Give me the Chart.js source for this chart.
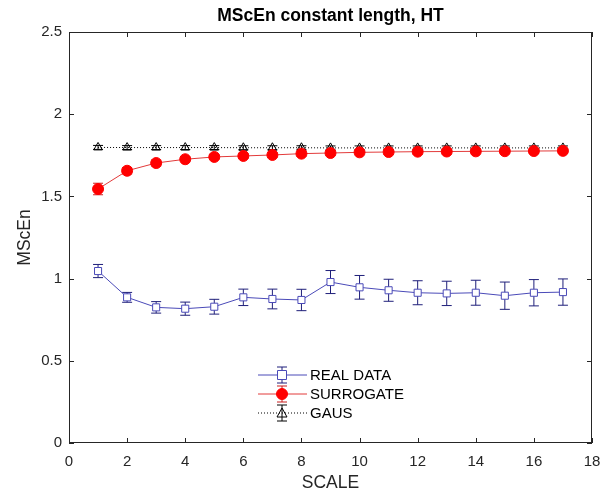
<!DOCTYPE html>
<html>
<head>
<meta charset="utf-8">
<script src="https://cdn.jsdelivr.net/npm/chart.js@4.4.1/dist/chart.umd.min.js"></script>
<style>
  html, body { margin: 0; background: #fff; }
  #wrap { width: 615px; height: 492px; }
</style>
</head>
<body>
<div id="wrap"><canvas id="chart"></canvas></div>
<script>
// valores
const scaleValues = [1, 2, 3, 4, 5, 6, 7, 8, 9, 10, 11, 12, 13, 14, 15, 16, 17];
const realData = [1.046, 0.886, 0.825, 0.817, 0.829, 0.886, 0.876, 0.870, 0.979, 0.947, 0.929, 0.914, 0.910, 0.914, 0.896, 0.914, 0.918];
const realErr  = [0.040, 0.030, 0.035, 0.040, 0.045, 0.050, 0.060, 0.065, 0.070, 0.072, 0.067, 0.073, 0.074, 0.076, 0.083, 0.080, 0.080];
const surrData = [1.545, 1.656, 1.703, 1.726, 1.740, 1.746, 1.752, 1.760, 1.764, 1.768, 1.770, 1.772, 1.773, 1.774, 1.775, 1.776, 1.777];
const surrErr  = [0.035, 0.020, 0.018, 0.015, 0.015, 0.015, 0.015, 0.015, 0.015, 0.015, 0.015, 0.015, 0.015, 0.015, 0.015, 0.015, 0.015];
const gausData = [1.798, 1.797, 1.797, 1.797, 1.797, 1.796, 1.796, 1.796, 1.795, 1.795, 1.795, 1.795, 1.795, 1.795, 1.795, 1.795, 1.795];
const gausErr  = [0.012, 0.012, 0.012, 0.012, 0.012, 0.012, 0.012, 0.012, 0.012, 0.012, 0.012, 0.012, 0.012, 0.012, 0.012, 0.012, 0.012];
const xTicks = [0, 2, 4, 6, 8, 10, 12, 14, 16, 18];
const yTicks = [0, 0.5, 1, 1.5, 2, 2.5];

const toPoints = arr => arr.map((v, i) => ({ x: scaleValues[i], y: v }));
const textColor = '#262626';
const fontFamily = '"Liberation Sans", Arial, sans-serif';

// barras de erro desenhadas pelas escalas do Chart.js
const errorBars = {
  id: 'errorBars',
  beforeDatasetsDraw(chart) {
    const { ctx, scales: { x, y } } = chart;
    chart.data.datasets.forEach(ds => {
      if (!ds.errors) return;
      ctx.save();
      ctx.strokeStyle = ds.errorColor;
      ctx.lineWidth = 1;
      ds.data.forEach((p, i) => {
        const px = x.getPixelForValue(p.x);
        const top = y.getPixelForValue(p.y + ds.errors[i]);
        const bot = y.getPixelForValue(p.y - ds.errors[i]);
        ctx.beginPath();
        ctx.moveTo(px, top); ctx.lineTo(px, bot);
        ctx.moveTo(px - 5, top); ctx.lineTo(px + 5, top);
        ctx.moveTo(px - 5, bot); ctx.lineTo(px + 5, bot);
        ctx.stroke();
      });
      ctx.restore();
    });
  }
};

// caixa, ticks para dentro, título e legenda (estilo MATLAB)
const matlabFrame = {
  id: 'matlabFrame',
  afterDraw(chart) {
    const { ctx, chartArea: a, scales: { x, y } } = chart;
    ctx.save();
    ctx.strokeStyle = '#262626';
    ctx.lineWidth = 1;
    ctx.strokeRect(a.left + 0.5, a.top + 0.5, a.right - a.left - 1, a.bottom - a.top - 1);
    ctx.beginPath();
    xTicks.forEach(t => {
      const px = Math.round(x.getPixelForValue(t)) + 0.5;
      ctx.moveTo(px, a.bottom); ctx.lineTo(px, a.bottom - 5);
      ctx.moveTo(px, a.top); ctx.lineTo(px, a.top + 5);
    });
    yTicks.forEach(t => {
      const py = Math.round(y.getPixelForValue(t)) + 0.5;
      ctx.moveTo(a.left, py); ctx.lineTo(a.left + 5, py);
      ctx.moveTo(a.right, py); ctx.lineTo(a.right - 5, py);
    });
    ctx.stroke();

    ctx.fillStyle = '#000';
    ctx.font = 'bold 17.5px ' + fontFamily;
    ctx.textAlign = 'center';
    ctx.textBaseline = 'middle';
    ctx.fillText('MScEn constant length, HT', (a.left + a.right) / 2, 16);

    // legenda
    const lx0 = 258, lx1 = 307, mx = 282, tx = 310;
    const rows = [375, 394, 413];
    chart.data.datasets.forEach((ds, i) => {
      const ry = rows[i];
      ctx.strokeStyle = ds.borderColor;
      ctx.lineWidth = 1;
      ctx.setLineDash(ds.borderDash || []);
      ctx.beginPath(); ctx.moveTo(lx0, ry); ctx.lineTo(lx1, ry); ctx.stroke();
      ctx.setLineDash([]);
      ctx.strokeStyle = ds.errorColor;
      ctx.beginPath();
      ctx.moveTo(mx, ry - 8); ctx.lineTo(mx, ry + 8);
      ctx.moveTo(mx - 5, ry - 8); ctx.lineTo(mx + 5, ry - 8);
      ctx.moveTo(mx - 5, ry + 8); ctx.lineTo(mx + 5, ry + 8);
      ctx.stroke();
      ctx.fillStyle = ds.pointBackgroundColor;
      ctx.strokeStyle = ds.pointBorderColor;
      ctx.beginPath();
      if (ds.pointStyle === 'rect') {
        ctx.rect(mx - 4.5, ry - 4.5, 9, 9);
      } else if (ds.pointStyle === 'triangle') {
        ctx.moveTo(mx, ry - 5); ctx.lineTo(mx + 5, ry + 4); ctx.lineTo(mx - 5, ry + 4); ctx.closePath();
      } else {
        ctx.arc(mx, ry, 5.5, 0, Math.PI * 2);
      }
      ctx.fill(); ctx.stroke();
      ctx.fillStyle = '#000';
      ctx.font = '15px ' + fontFamily;
      ctx.textAlign = 'left';
      ctx.fillText(ds.label, tx, ry + 1);
    });
    ctx.restore();
  }
};

new Chart(document.getElementById('chart'), {
  type: 'line',
  data: {
    datasets: [
      {
        label: 'REAL DATA',
        data: toPoints(realData),
        errors: realErr,
        errorColor: '#1f1f7a',
        borderColor: '#4a4ab8',
        borderWidth: 1,
        pointStyle: 'rect',
        pointRadius: 5,
        pointBackgroundColor: '#ffffff',
        pointBorderColor: '#4a4ab8',
        pointBorderWidth: 1
      },
      {
        label: 'SURROGATE',
        data: toPoints(surrData),
        errors: surrErr,
        errorColor: '#c81e1e',
        borderColor: '#e23a3a',
        borderWidth: 1,
        pointStyle: 'circle',
        pointRadius: 5.5,
        pointBackgroundColor: '#ff0000',
        pointBorderColor: '#ff0000',
        pointBorderWidth: 1
      },
      {
        label: 'GAUS',
        data: toPoints(gausData),
        errors: gausErr,
        errorColor: '#000000',
        borderColor: '#000000',
        borderWidth: 1,
        borderDash: [1, 2],
        pointStyle: 'triangle',
        pointRadius: 5,
        pointBackgroundColor: 'rgba(255,255,255,0)',
        pointBorderColor: '#000000',
        pointBorderWidth: 1
      }
    ]
  },
  options: {
    responsive: true,
    maintainAspectRatio: false,
    animation: false,
    layout: { padding: { top: 32, right: 23, left: 0, bottom: 0 } },
    plugins: { legend: { display: false }, tooltip: { enabled: false } },
    scales: {
      x: {
        type: 'linear',
        min: 0, max: 18,
        afterBuildTicks: s => { s.ticks = xTicks.map(v => ({ value: v })); },
        afterFit: s => { s.height = 49; },
        grid: { display: false, drawTicks: false },
        border: { display: false },
        ticks: { color: textColor, padding: 10, font: { size: 15, family: fontFamily }, maxRotation: 0, callback: v => String(v) },
        title: { display: true, text: 'SCALE', color: textColor, font: { size: 17.5, family: fontFamily, lineHeight: 1 }, padding: { top: 0, bottom: 0 } }
      },
      y: {
        min: 0, max: 2.5,
        afterBuildTicks: s => { s.ticks = yTicks.map(v => ({ value: v })); },
        afterFit: s => { s.width = 69; },
        grid: { display: false, drawTicks: false },
        border: { display: false },
        ticks: { color: textColor, padding: 7, font: { size: 15, family: fontFamily }, callback: v => String(v) },
        title: { display: true, text: 'MScEn', color: textColor, font: { size: 17.5, family: fontFamily, lineHeight: 1 }, padding: { top: 16, bottom: 0 } }
      }
    }
  },
  plugins: [errorBars, matlabFrame]
});
</script>
</body>
</html>
